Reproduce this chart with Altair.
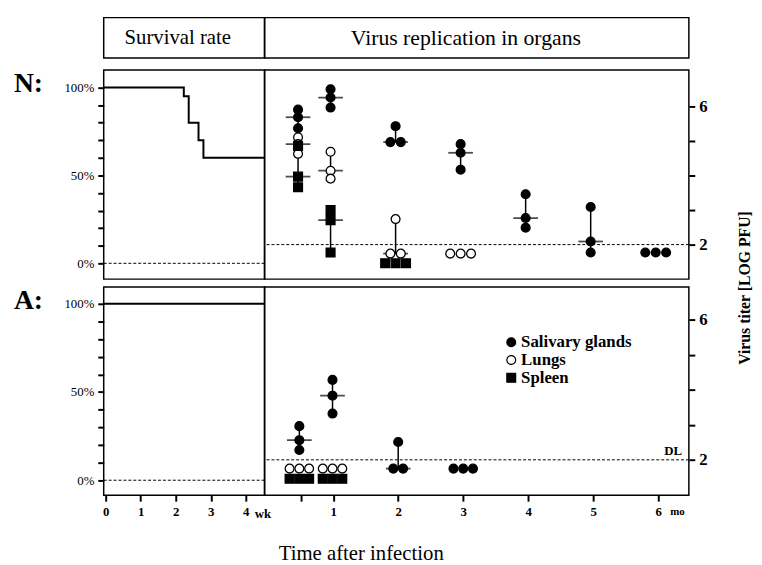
import altair as alt
import pandas as pd
from collections import Counter

FONT = "Liberation Serif"

# ---------------- data ----------------
# survival (percent) vs weeks after infection
surv_weeks_N = [-0.056, 2.23, 2.37, 2.65, 2.79, 4.535]
surv_pct_N = [100, 95, 80, 70, 60, 60]
surv_weeks_A = [-0.056, 4.535]
surv_pct_A = [100, 100]

# virus titers (log PFU) vs months after infection, 3 animals per time point
N_sal_t = [0.46, 0.96, 1.96, 2.96, 3.96, 4.96, 5.96]
N_sal = [[5.91, 5.69, 5.37], [6.50, 6.26, 5.97], [5.43, 4.97, 4.97],
         [4.91, 4.66, 4.17], [3.46, 2.77, 2.49], [3.09, 2.09, 1.77],
         [1.77, 1.77, 1.77]]
N_lung_t = [0.46, 0.96, 1.96, 2.96]
N_lung = [[5.11, 4.91, 4.63], [4.69, 4.14, 3.91], [2.74, 1.74, 1.74],
          [1.74, 1.74, 1.74]]
N_spl_t = [0.46, 0.96, 1.96]
N_spl = [[4.86, 3.97, 3.66], [3.00, 2.71, 1.77], [1.46, 1.46, 1.46]]

A_sal_t = [0.48, 0.99, 2.0, 3.0]
A_sal = [[2.96, 2.56, 2.28], [4.28, 3.83, 3.32], [2.51, 1.75, 1.75],
         [1.75, 1.75, 1.75]]
A_lung_t = [0.48, 0.99]
A_lung = [[1.75, 1.75, 1.75], [1.75, 1.75, 1.75]]
A_spl_t = [0.48, 0.99]
A_spl = [[1.46, 1.46, 1.46], [1.46, 1.46, 1.46]]

organs = ["Salivary glands", "Lungs", "Spleen"]
week_ticks = [0, 1, 2, 3, 4]
month_ticks = [0.5, 1, 2, 3, 4, 5, 6]
pct_ticks = list(range(0, 101, 10))
log_ticks = [2, 3, 4, 5, 6]
detection_limit = 2


# ---------------- helpers ----------------
def jitter_points(times, groups, organ, step):
    rows = []
    for t, vals in zip(times, groups):
        cnt = Counter(vals)
        seen = Counter()
        for v in vals:
            k = cnt[v]
            i = seen[v]
            seen[v] += 1
            rows.append({"t": t, "x": t + (i - (k - 1) / 2) * step,
                         "v": v, "organ": organ})
    return rows


def summarize(times, groups, organ):
    rows = []
    for t, vals in zip(times, groups):
        s = sorted(vals)
        rows.append({"t": t, "lo": s[0], "hi": s[-1], "med": s[len(s) // 2],
                     "organ": organ, "spread": s[-1] > s[0]})
    return rows


N_pts = pd.DataFrame(jitter_points(N_lung_t, N_lung, "Lungs", 0.16)
                     + jitter_points(N_spl_t, N_spl, "Spleen", 0.16)
                     + jitter_points(N_sal_t, N_sal, "Salivary glands", 0.16))
N_sum = pd.DataFrame(summarize(N_lung_t, N_lung, "Lungs")
                     + summarize(N_spl_t, N_spl, "Spleen")
                     + summarize(N_sal_t, N_sal, "Salivary glands"))
A_pts = pd.DataFrame(jitter_points(A_lung_t, A_lung, "Lungs", 0.15)
                     + jitter_points(A_spl_t, A_spl, "Spleen", 0.15)
                     + jitter_points(A_sal_t, A_sal, "Salivary glands", 0.15))
A_sum = pd.DataFrame(summarize(A_lung_t, A_lung, "Lungs")
                     + summarize(A_spl_t, A_spl, "Spleen")
                     + summarize(A_sal_t, A_sal, "Salivary glands"))

W_L, W_R = 163, 430
H_N, H_A = 212, 211

shape_scale = alt.Scale(domain=organs, range=["circle", "circle", "square"])
fill_scale = alt.Scale(domain=organs, range=["black", "white", "black"])
size_scale = alt.Scale(domain=organs, range=[80, 80, 50])
leg_size_scale = alt.Scale(domain=organs, range=[48, 40, 40])

TICK = dict(ticks=True, tickColor="black", tickWidth=2, tickOpacity=1,
            domain=False, grid=False, labelColor="black", labelFont=FONT,
            labelFlush=False, labelOverlap=False)


def surv_panel(weeks, pct, ydom, height, label, show_x):
    xs = alt.Scale(domain=[-0.056, 4.535], nice=False, zero=False)
    ys = alt.Scale(domain=ydom, nice=False, zero=False)
    yaxis = alt.Axis(values=pct_ticks,
                     labelExpr="datum.value % 50 == 0 ? datum.value + '%' : ''",
                     tickSize=6, labelFontSize=13, labelPadding=4, **TICK)
    if show_x:
        xaxis = alt.Axis(values=week_ticks, tickSize=6, labelPadding=5,
                         labelFontSize=13, labelFontWeight="bold", **TICK)
    else:
        xaxis = None
    df = pd.DataFrame({"wk": weeks, "s": pct})
    line = alt.Chart(df).mark_line(interpolate="step-after", color="black",
                                   strokeWidth=2).encode(
        x=alt.X("wk:Q", scale=xs, axis=xaxis, title=None),
        y=alt.Y("s:Q", scale=ys, axis=yaxis, title=None))
    zero = alt.Chart(pd.DataFrame({"z": [0]})).mark_rule(
        color="black", strokeWidth=1, strokeDash=[3, 2]).encode(
        y=alt.Y("z:Q", scale=ys, axis=yaxis, title=None))
    lab = alt.Chart(pd.DataFrame({"l": [label]})).mark_text(
        font=FONT, fontSize=28, fontWeight="bold", align="left",
        baseline="middle", color="black").encode(
        text="l:N", x=alt.value(-91), y=alt.value(14))
    layers = [zero, line, lab]
    if show_x:
        wk = alt.Chart(pd.DataFrame({"w": [4], "l": ["wk"]})).mark_text(
            font=FONT, fontSize=13, fontWeight="bold", align="left",
            baseline="middle", dx=9, color="black").encode(
            text="l:N", x=alt.X("w:Q", scale=xs, axis=xaxis, title=None),
            y=alt.value(height + 19))
        ttl = alt.Chart(pd.DataFrame({"l": ["Time after infection"]})).mark_text(
            font=FONT, fontSize=21, align="center", baseline="middle",
            color="black").encode(text="l:N", x=alt.value(261), y=alt.value(271))
        layers += [wk, ttl]
    return alt.layer(*layers).properties(width=W_L, height=height)


def virus_panel(pts, summ, ydom, height, show_x, extras):
    xs = alt.Scale(domain=[-0.055, 6.47], nice=False, zero=False)
    ys = alt.Scale(domain=ydom, nice=False, zero=False)
    yaxis = alt.Axis(orient="right", values=log_ticks,
                     labelExpr="(datum.value == 2 || datum.value == 6) ? datum.label : ''",
                     tickSize=6, labelPadding=4, labelFontSize=17,
                     labelFontWeight="bold", **TICK)
    if show_x:
        xaxis = alt.Axis(values=month_ticks,
                         labelExpr="datum.value == 0.5 ? '' : datum.label",
                         tickSize=6, labelPadding=5, labelFontSize=13,
                         labelFontWeight="bold", **TICK)
    else:
        xaxis = None
    X = lambda f: alt.X(f, scale=xs, axis=xaxis, title=None)
    Y = lambda f: alt.Y(f, scale=ys, axis=yaxis, title=None)

    dl = alt.Chart(pd.DataFrame({"d": [detection_limit]})).mark_rule(
        color="black", strokeWidth=1, strokeDash=[3, 2]).encode(y=Y("d:Q"))
    spread = summ[summ["spread"]]
    vlines = alt.Chart(spread).mark_rule(color="black", strokeWidth=1.5).encode(
        x=X("t:Q"), y=Y("lo:Q"), y2="hi:Q")
    bars = alt.Chart(spread).mark_tick(orient="horizontal", size=25,
                                       thickness=1.8, color="black").encode(
        x=X("t:Q"), y=Y("med:Q"))
    points = alt.Chart(pts).mark_point(filled=True, stroke="black",
                                       strokeWidth=1.3, opacity=1).encode(
        x=X("x:Q"), y=Y("v:Q"),
        shape=alt.Shape("organ:N", scale=shape_scale, legend=None),
        fill=alt.Fill("organ:N", scale=fill_scale, legend=None),
        size=alt.Size("organ:N", scale=size_scale, legend=None))
    layers = [dl, vlines, bars, points]
    if "title" in extras:
        ttl = alt.Chart(pd.DataFrame({"l": ["Virus titer [LOG PFU]"]})).mark_text(
            font=FONT, fontSize=16, fontWeight="bold", angle=270, align="center",
            baseline="middle", color="black").encode(
            text="l:N", x=alt.value(487), y=alt.value(221))
        layers.append(ttl)
    if "legend" in extras:
        leg = pd.DataFrame({"organ": organs, "row": [0, 1, 2]})
        lp = alt.Chart(leg).transform_calculate(ly="56 + datum.row * 18").mark_point(
            filled=True, stroke="black", strokeWidth=1.2, opacity=1).encode(
            x=alt.value(250), y=alt.Y("ly:Q", scale=None),
            shape=alt.Shape("organ:N", scale=shape_scale, legend=None),
            fill=alt.Fill("organ:N", scale=fill_scale, legend=None),
            size=alt.Size("organ:N", scale=leg_size_scale, legend=None))
        lt = alt.Chart(leg).transform_calculate(ly="56 + datum.row * 18").mark_text(
            font=FONT, fontSize=17, fontWeight="bold", align="left",
            baseline="middle", color="black").encode(
            text="organ:N", x=alt.value(260), y=alt.Y("ly:Q", scale=None))
        dlt = alt.Chart(pd.DataFrame({"d": [detection_limit], "l": ["DL"]})).mark_text(
            font=FONT, fontSize=13, fontWeight="bold", align="right",
            baseline="bottom", dy=-2, color="black").encode(
            text="l:N", x=alt.value(423), y=Y("d:Q"))
        mo = alt.Chart(pd.DataFrame({"m": [6], "l": ["mo"]})).mark_text(
            font=FONT, fontSize=11, fontWeight="bold", align="left",
            baseline="middle", dx=12, color="black").encode(
            text="l:N", x=X("m:Q"), y=alt.value(height + 17))
        layers += [lp, lt, dlt, mo]
    return alt.layer(*layers).properties(width=W_R, height=height)


def header(text, width, xpos, size):
    box = alt.Chart(pd.DataFrame({"b": [0]})).mark_rect(
        filled=False, stroke="black", strokeWidth=1.5).encode(
        x=alt.value(0), x2=alt.value(width), y=alt.value(0), y2=alt.value(41))
    txt = alt.Chart(pd.DataFrame({"l": [text]})).mark_text(
        font=FONT, fontSize=size, align="center", baseline="middle",
        color="black").encode(text="l:N", x=alt.value(xpos), y=alt.value(21))
    return alt.layer(box, txt).properties(
        width=width, height=45, view=alt.ViewBackground(stroke="transparent"))


HL = header("Survival rate", W_L, 75, 21)
HR = header("Virus replication in organs", W_R, 204, 22)

NL = surv_panel(surv_weeks_N, surv_pct_N, [-9, 110], H_N, "N:", False)
NR = virus_panel(N_pts, N_sum, [1.0, 7.06], H_N, False, ["title"])
AL = surv_panel(surv_weeks_A, surv_pct_A, [-8.5, 109.5], H_A, "A:", True)
AR = virus_panel(A_pts, A_sum, [0.99, 6.93], H_A, True, ["legend"])

chart = alt.concat(HL, HR, NL, NR, AL, AR, columns=2,
                   spacing={"row": 8, "column": 0}, bounds="flush").properties(
    padding={"left": 5, "top": 4, "right": 0, "bottom": 0},
    background="white",
).configure_view(stroke="black", strokeWidth=1.5).configure_axis(
    grid=False, domain=False, ticks=True, tickColor="black", tickWidth=2,
    labelColor="black", labelFont=FONT)

chart.save("out.html", embed_options={"renderer": "svg", "actions": False})
